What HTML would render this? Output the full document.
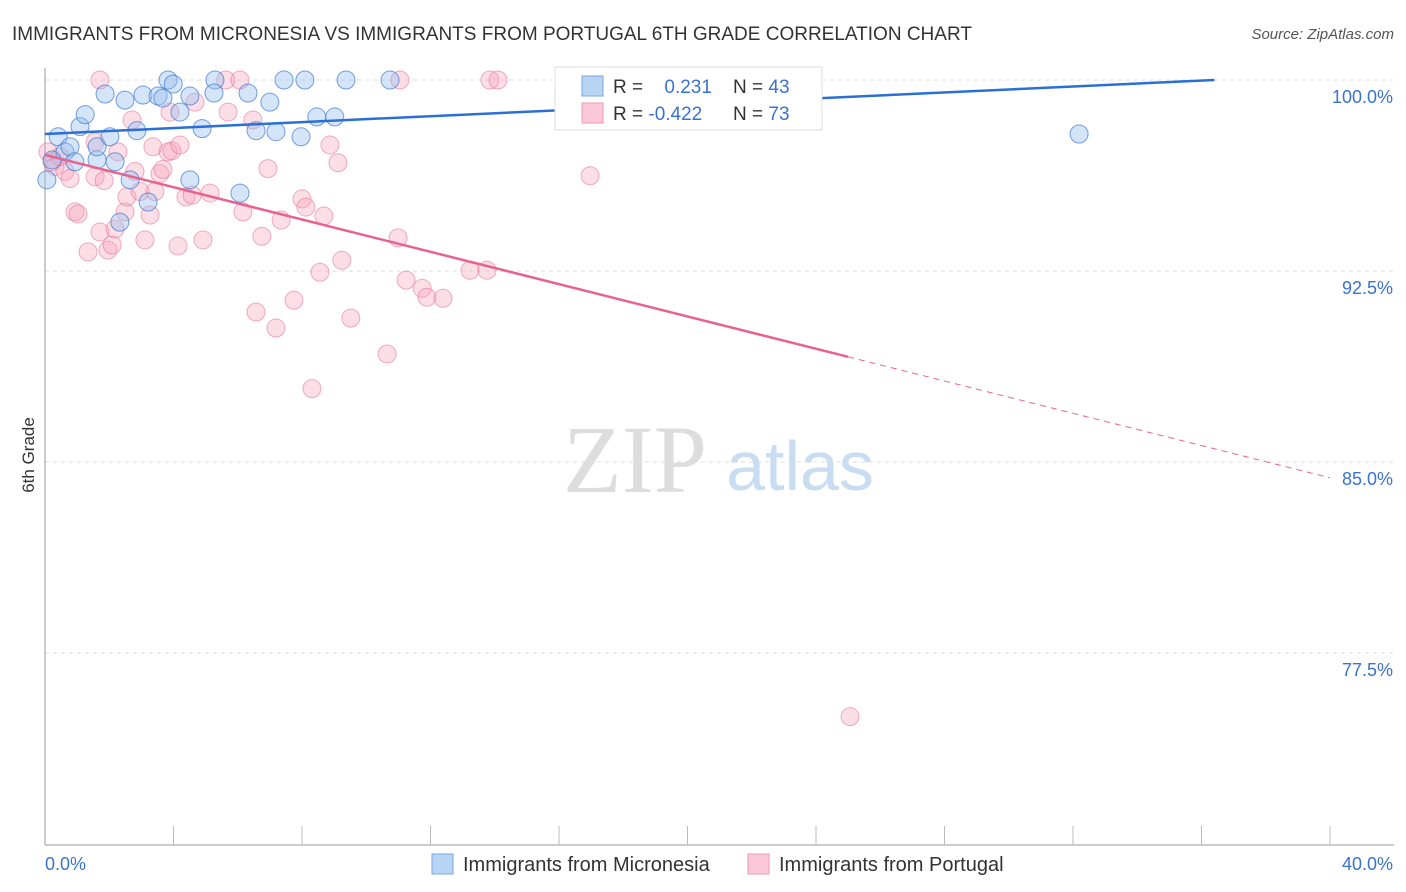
<!DOCTYPE html>
<html><head><meta charset="utf-8"><style>
body{margin:0;background:#fff;font-family:"Liberation Sans",sans-serif;}
svg{display:block}
</style></head><body>
<svg id="chart" width="1406" height="892">
<text x="12" y="40" font-size="19" fill="#333">IMMIGRANTS FROM MICRONESIA VS IMMIGRANTS FROM PORTUGAL 6TH GRADE CORRELATION CHART</text>
<text x="1394" y="39" font-size="15" fill="#555" font-style="italic" text-anchor="end">Source: ZipAtlas.com</text>
<text x="635" y="492" font-size="96" fill="#ddd" font-family="Liberation Serif, serif" text-anchor="middle">ZIP</text>
<text x="800" y="490" font-size="70" fill="#c8dcf2" text-anchor="middle">atlas</text>
<text x="34" y="455" font-size="17" fill="#333" transform="rotate(-90 34 455)" text-anchor="middle">6th Grade</text>
<g id="grid"></g><g id="pts"></g><g id="lines"></g>
<g>
<rect x="555" y="67" width="267" height="63" fill="#fff" stroke="#ddd"/>
<rect x="582" y="76" width="21" height="20" fill="#b8d4f5" stroke="#7aa6de"/>
<rect x="582" y="103" width="21" height="20" fill="#fac8d8" stroke="#ee9ab5"/>
<text x="613" y="93" font-size="19" fill="#333">R = <tspan fill="#3a72d0" dx="16">0.231</tspan></text>
<text x="733" y="93" font-size="19" fill="#333">N = <tspan fill="#3a72d0">43</tspan></text>
<text x="613" y="120" font-size="19" fill="#333">R = <tspan fill="#3a72d0">-0.422</tspan></text>
<text x="733" y="120" font-size="19" fill="#333">N = <tspan fill="#3a72d0">73</tspan></text>
</g>
<g>
<rect x="432" y="854" width="21" height="20" fill="#b8d4f5" stroke="#7aa6de"/>
<text x="463" y="871" font-size="20" fill="#333">Immigrants from Micronesia</text>
<rect x="748" y="854" width="21" height="20" fill="#fac8d8" stroke="#ee9ab5"/>
<text x="779" y="871" font-size="20" fill="#333">Immigrants from Portugal</text>
</g>
<text x="45" y="870" font-size="18" fill="#3a72d0">0.0%</text>
<text x="1393" y="870" font-size="18" fill="#3a72d0" text-anchor="end">40.0%</text>
</svg>
<script>
const yTicks=[100,92.5,85,77.5];
const yTickLabels=["100.0%","92.5%","85.0%","77.5%"];
const blueX=[0.06,0.41,0.62,0.78,0.93,1.09,1.25,1.62,1.62,1.87,2.02,2.18,2.49,2.65,2.86,3.05,3.21,3.52,3.67,3.83,3.99,4.20,4.51,4.89,5.29,5.26,6.07,6.32,6.57,7.00,7.19,7.44,7.97,8.09,8.46,9.02,9.37,10.74,18.52,32.19,2.33,0.22,4.51];
const blueY=[96.08,97.77,97.18,97.38,96.79,98.17,98.64,96.87,97.38,99.45,97.77,96.79,99.21,96.08,98.01,99.41,95.21,99.37,99.29,100,99.84,98.74,96.08,98.09,100,99.49,95.56,99.49,98.01,99.13,97.97,100,97.77,100,98.55,98.55,100,100,98.94,97.88,94.42,96.86,99.37];
const pinkX=[0.09,0.22,0.31,0.47,0.62,0.78,0.93,1.03,1.34,1.56,1.56,1.71,1.84,1.96,2.09,2.18,2.27,2.49,2.55,2.71,2.80,2.96,3.11,3.27,3.36,3.42,3.58,3.67,3.83,3.89,3.95,4.14,4.20,4.39,4.58,4.67,4.92,5.14,5.63,5.70,6.07,6.16,6.47,6.57,6.75,6.94,7.19,7.35,7.75,8.00,8.12,8.56,8.68,8.87,9.12,9.24,9.52,10.65,10.99,11.05,11.24,11.74,11.89,12.39,13.23,13.76,13.85,14.10,16.53,16.97,25.06,8.31,1.71];
const pinkY=[97.18,96.79,96.60,96.99,96.41,96.13,94.82,94.74,93.25,97.57,96.20,94.03,96.05,93.32,93.52,94.15,97.18,94.82,95.41,98.43,96.41,95.62,93.72,94.70,97.38,95.62,96.33,96.49,97.18,98.74,97.22,93.48,97.45,95.41,95.48,99.13,93.72,95.56,100,98.74,100,94.82,98.43,90.89,93.86,96.52,90.26,94.50,91.35,95.33,95.01,92.45,94.66,97.45,96.75,92.92,90.65,89.24,93.80,100,92.14,91.82,91.47,91.43,92.53,92.53,100,100,100,96.24,75.0,87.88,100];
const blueLine=[[0,97.88],[36.4,100]];
const pinkSolid=[[0,97.06],[25.0,89.13]];
const pinkDash=[[25.0,89.13],[40,84.38]];
const X0=45,X1=1330,Y0=80,PXper=191/7.5;
const sx=v=>X0+(v/40)*(X1-X0);
const sy=v=>Y0+(100-v)*PXper;
const NS="http://www.w3.org/2000/svg";
function mk(t,a,p){const e=document.createElementNS(NS,t);for(const k in a)e.setAttribute(k,a[k]);p.appendChild(e);return e;}
const grid=document.getElementById('grid');
yTicks.forEach((t,i)=>{
 const l=mk('line',{x1:X0,x2:1394,y1:sy(t),y2:sy(t),stroke:'#ddd','stroke-dasharray':'4,4'},grid);
 
 
 const tx=mk('text',{x:1393,y:sy(t)+23,'font-size':18,fill:'#3a72d0','text-anchor':'end'},grid);
 tx.textContent=yTickLabels[i];
 
 
});
const ax=mk('line',{x1:X0,x2:1394,y1:845,y2:845,stroke:'#bbb','stroke-width':1.5},grid);


const ay=mk('line',{x1:X0,x2:X0,y1:68,y2:845,stroke:'#bbb','stroke-width':1.5},grid);


for(let i=0;i<=10;i++){
 const t=mk('line',{x1:sx(i*4),x2:sx(i*4),y1:826,y2:845,stroke:'#bbb'},grid);
 
 
}
const pts=document.getElementById('pts');
pinkX.forEach((x,i)=>{
 const c=mk('circle',{cx:sx(x),cy:sy(pinkY[i]),r:9,fill:'rgba(245,160,185,0.35)',stroke:'rgba(230,120,155,0.6)','stroke-width':1},pts);
 
 
});
blueX.forEach((x,i)=>{
 const c=mk('circle',{cx:sx(x),cy:sy(blueY[i]),r:9,fill:'rgba(150,190,240,0.4)',stroke:'rgba(60,120,210,0.7)','stroke-width':1},pts);
 
 
});
const lines=document.getElementById('lines');
const bl=mk('line',{x1:sx(blueLine[0][0]),y1:sy(blueLine[0][1]),x2:sx(blueLine[1][0]),y2:sy(blueLine[1][1]),stroke:'#2a6fd6','stroke-width':2.5},lines);


const pl=mk('line',{x1:sx(pinkSolid[0][0]),y1:sy(pinkSolid[0][1]),x2:sx(pinkSolid[1][0]),y2:sy(pinkSolid[1][1]),stroke:'#e8628f','stroke-width':2.5},lines);


const pd=mk('line',{x1:sx(pinkDash[0][0]),y1:sy(pinkDash[0][1]),x2:sx(pinkDash[1][0]),y2:sy(pinkDash[1][1]),stroke:'#e8628f','stroke-width':1,'stroke-dasharray':'6,5'},lines);


</script>
</body></html>
